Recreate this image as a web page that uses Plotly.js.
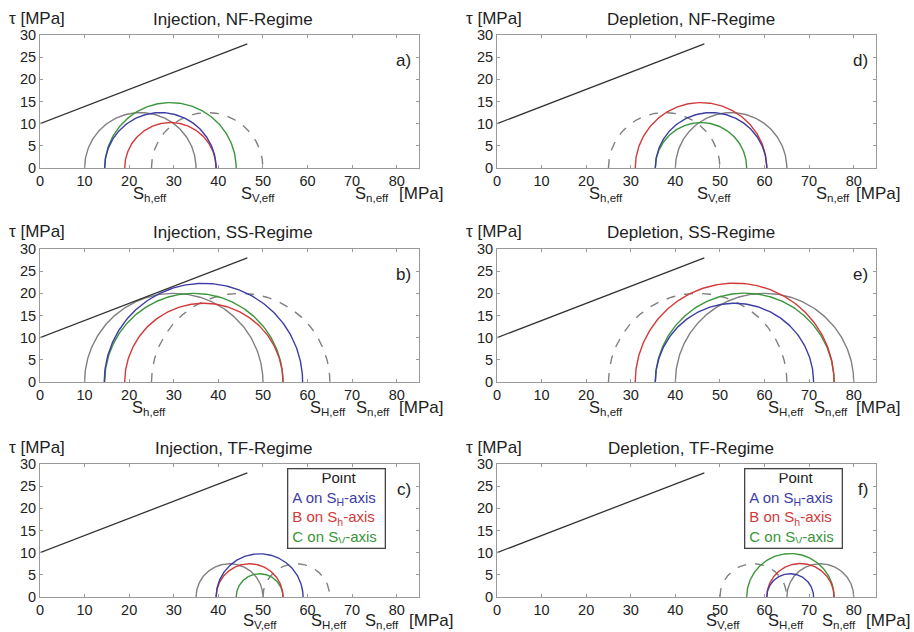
<!DOCTYPE html>
<html>
<head>
<meta charset="utf-8">
<script src="https://cdn.plot.ly/plotly-3.0.1.min.js"></script>
<style>
  html, body { margin: 0; padding: 0; background: #fff; }
  #chart { width: 914px; height: 632px; }
</style>
</head>
<body>
<div id="chart"></div>
<script>
// Panels in order a) .. f)
const panelTitles = [
  'Injection, NF-Regime', 'Injection, SS-Regime', 'Injection, TF-Regime',
  'Depletion, NF-Regime', 'Depletion, SS-Regime', 'Depletion, TF-Regime'
];
const panelTags = ['a)', 'b)', 'c)', 'd)', 'e)', 'f)'];

// Mohr circles given by their [min, max] effective normal stress (MPa)
const initialCircle = [[25, 50], [25, 65], [50, 65], [25, 50], [25, 65], [50, 65]];   // dashed
const isotropicCircle = [[10, 35], [10, 50], [35, 50], [40, 65], [40, 80], [65, 80]]; // grey
const pointA = [[14.5, 39.5], [14.4, 58.9], [39.5, 59], [35.5, 60.5], [35.5, 71], [60.5, 71]];
const pointB = [[19, 39.5], [19, 54.5], [39.5, 54.5], [31, 60.5], [31, 75.6], [60.5, 75.6]];
const pointC = [[14.5, 44], [14.5, 54.5], [44, 54.5], [35.5, 56], [35.5, 75.6], [56, 75.6]];

// Failure envelope (same for every panel)
const envelopeSn = [0, 46.5];
const envelopeTau = [10, 28];

// Stress labels under each panel: [text, normal stress]
const stressLabels = [
  [['S<sub>h,eff</sub>', 24.7], ['S<sub>V,eff</sub>', 48.9], ['S<sub>n,eff</sub>', 74.4]],
  [['S<sub>h,eff</sub>', 24.5], ['S<sub>H,eff</sub>', 64.6], ['S<sub>n,eff</sub>', 74.6]],
  [['S<sub>V,eff</sub>', 49.3], ['S<sub>H,eff</sub>', 64.8], ['S<sub>n,eff</sub>', 76.6]],
  [['S<sub>h,eff</sub>', 24.5], ['S<sub>V,eff</sub>', 48.7], ['S<sub>n,eff</sub>', 75.4]],
  [['S<sub>h,eff</sub>', 24.5], ['S<sub>H,eff</sub>', 64.8], ['S<sub>n,eff</sub>', 74.8]],
  [['S<sub>V,eff</sub>', 50.6], ['S<sub>H,eff</sub>', 64.8], ['S<sub>n,eff</sub>', 76.8]]
];

const xTicks = [0, 10, 20, 30, 40, 50, 60, 70, 80];
const yTicks = [0, 5, 10, 15, 20, 25, 30];

const W = 914, H = 632;
const FONT = 'Liberation Sans, Arial, sans-serif';
const COL = { blue: '#3d3da3', red: '#d23a3a', green: '#3b963b', grey: '#808080', line: '#333333' };

const px = x => x / W;
const py = y => 1 - y / H;

// plot-area boxes in pixels: [left, right], [top, bottom]
const colX = [[40, 419], [497, 876]];
const rowY = [[35, 168], [249, 382], [464, 597]];
const panelBox = i => ({ x: colX[Math.floor(i / 3)], y: rowY[i % 3] });

// upper half of a Mohr circle between two principal stresses
function semicircle(pair) {
  const c = (pair[0] + pair[1]) / 2, r = (pair[1] - pair[0]) / 2;
  const xs = [], ys = [];
  for (let k = 0; k <= 180; k++) {
    const a = Math.PI * k / 180;
    xs.push(c - r * Math.cos(a));
    ys.push(r * Math.sin(a));
  }
  return { x: xs, y: ys };
}

const traces = [];
const layout = {
  width: W, height: H,
  margin: { l: 0, r: 0, t: 0, b: 0 },
  paper_bgcolor: '#fff', plot_bgcolor: '#fff',
  showlegend: false,
  font: { family: FONT, size: 14, color: '#222' },
  annotations: []
};

for (let i = 0; i < 6; i++) {
  const n = i + 1;
  const xa = 'x' + (n === 1 ? '' : n), ya = 'y' + (n === 1 ? '' : n);
  const box = panelBox(i);
  const axisCommon = {
    showgrid: false, zeroline: false, showline: true, mirror: 'ticks',
    linecolor: '#9a9a9a', linewidth: 1, ticks: 'inside', ticklen: 3,
    tickcolor: '#9a9a9a', tickfont: { family: FONT, size: 14.5, color: '#222' },
    fixedrange: true
  };
  layout['xaxis' + (n === 1 ? '' : n)] = Object.assign({}, axisCommon, {
    domain: [px(box.x[0]), px(box.x[1])], range: [0, 85],
    tickvals: xTicks, anchor: ya
  });
  layout['yaxis' + (n === 1 ? '' : n)] = Object.assign({}, axisCommon, {
    domain: [py(box.y[1]), py(box.y[0])], range: [0, 30],
    tickvals: yTicks, anchor: xa
  });

  const add = (pair, color, dash) => {
    const s = semicircle(pair);
    traces.push({ type: 'scatter', mode: 'lines', x: s.x, y: s.y, xaxis: xa, yaxis: ya,
      line: { color: color, width: 1.4, dash: dash || 'solid' }, hoverinfo: 'skip' });
  };
  add(initialCircle[i], COL.grey, 'dash');
  add(isotropicCircle[i], COL.grey);
  add(pointC[i], COL.green);
  add(pointB[i], COL.red);
  add(pointA[i], COL.blue);
  traces.push({ type: 'scatter', mode: 'lines', x: envelopeSn, y: envelopeTau, xaxis: xa, yaxis: ya,
    line: { color: COL.line, width: 1.3 }, hoverinfo: 'skip' });

  const cx = (box.x[0] + box.x[1]) / 2;
  layout.annotations.push({
    text: panelTitles[i], xref: 'paper', yref: 'paper',
    x: px(cx + 4), y: py(box.y[0] - 16), xanchor: 'center', yanchor: 'middle',
    showarrow: false, font: { family: FONT, size: 17, color: '#222' }
  });
  layout.annotations.push({
    text: '\u03c4 [MPa]', xref: 'paper', yref: 'paper',
    x: px(box.x[0] - 33), y: py(box.y[0] - 17), xanchor: 'left', yanchor: 'middle',
    showarrow: false, font: { family: FONT, size: 17, color: '#222' }
  });
  layout.annotations.push({
    text: panelTags[i], xref: 'paper', yref: 'paper',
    x: px(box.x[1] - 6), y: py(box.y[0] + 25), xanchor: 'right', yanchor: 'middle',
    showarrow: false, font: { family: FONT, size: 17, color: '#222' }
  });

  const labelY = (i % 3 === 2) ? box.y[1] + 24 : box.y[1] + 26;
  stressLabels[i].forEach(([t, sn]) => {
    layout.annotations.push({
      text: t, xref: xa, yref: 'paper', x: sn, y: py(labelY),
      xanchor: 'center', yanchor: 'middle', showarrow: false,
      font: { family: FONT, size: 16.5, color: '#222' }
    });
  });
  // unit label just right of the normal-stress label
  const unitPx = box.x[0] + ((i % 3 === 2) ? 391 : 381);
  layout.annotations.push({
    text: '[MPa]', xref: 'paper', yref: 'paper', x: px(unitPx), y: py(labelY - 1),
    xanchor: 'center', yanchor: 'middle', showarrow: false,
    font: { family: FONT, size: 17, color: '#222' }
  });

  // key box in the TF panels
  if (i % 3 === 2) {
    const nb = '&nbsp;'.repeat(7);
    layout.annotations.push({
      text: nb + 'Point<br>' +
        '<span style="color:' + COL.blue + '">A on S<sub>H</sub>-axis</span><br>' +
        '<span style="color:' + COL.red + '">B on S<sub>h</sub>-axis</span><br>' +
        '<span style="color:' + COL.green + '">C on S<sub>V</sub>-axis</span>',
      xref: 'paper', yref: 'paper',
      x: px(box.x[1] - 132), y: py(box.y[0] + 4), xanchor: 'left', yanchor: 'top',
      width: 88, height: 70, align: 'left', valign: 'middle',
      borderpad: 4, borderwidth: 1.3, bordercolor: '#444', bgcolor: '#fff',
      showarrow: false, font: { family: FONT, size: 15, color: '#222' }
    });
  }
}

Plotly.newPlot('chart', traces, layout, { staticPlot: true, displayModeBar: false });
</script>
</body>
</html>
